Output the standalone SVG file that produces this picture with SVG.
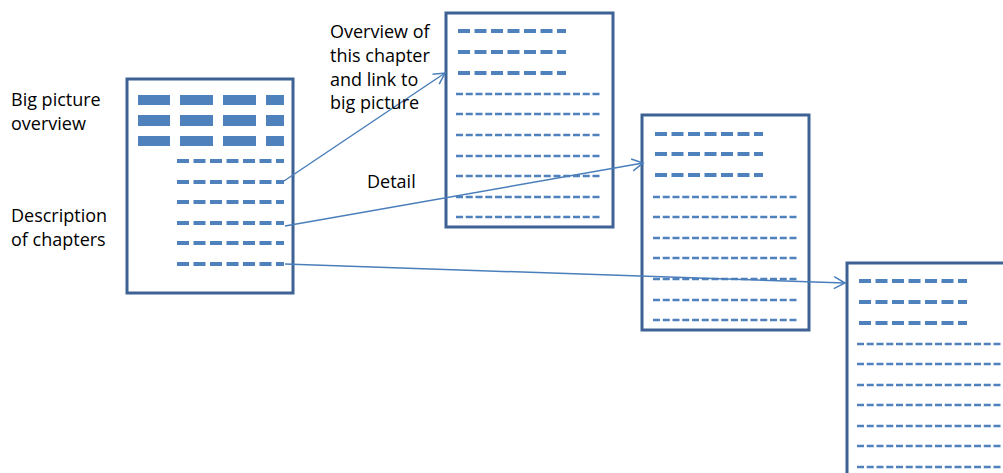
<svg xmlns="http://www.w3.org/2000/svg" width="1003" height="473" viewBox="0 0 1003 473">
<style>
.page{fill:#ffffff;stroke:#3d6293;stroke-width:3}
.blk{fill:#4f81bd}
.thick{stroke:#4f81bd;stroke-width:4;stroke-dasharray:12 4.5;fill:none}
.thin{stroke:#4f81bd;stroke-width:2.5;stroke-dasharray:7 2.75;fill:none}
.conn{stroke:#4a7ebb;stroke-width:1.5;fill:none;marker-end:url(#arr)}
.lbl{font-family:"Open Sans","Liberation Sans",sans-serif;font-size:18px;fill:#000}
</style>
<defs>
<marker id="arr" markerUnits="userSpaceOnUse" markerWidth="14" markerHeight="14" refX="12" refY="7" orient="auto" viewBox="0 0 14 14">
<path d="M1,1 L12,7 L1,13" fill="none" stroke="#4a7ebb" stroke-width="1.5"/>
</marker>
</defs>
<rect width="1003" height="473" fill="#ffffff"/>

<g id="doc1">
<rect class="page" x="127" y="79" width="166" height="214"/>
<rect class="blk" x="138" y="95" width="32" height="10"/>
<rect class="blk" x="180" y="95" width="33" height="10"/>
<rect class="blk" x="223" y="95" width="33" height="10"/>
<rect class="blk" x="266" y="95" width="18" height="10"/>
<rect class="blk" x="138" y="115" width="32" height="11"/>
<rect class="blk" x="180" y="115" width="33" height="11"/>
<rect class="blk" x="223" y="115" width="33" height="11"/>
<rect class="blk" x="266" y="115" width="18" height="11"/>
<rect class="blk" x="138" y="136" width="32" height="10"/>
<rect class="blk" x="180" y="136" width="33" height="10"/>
<rect class="blk" x="223" y="136" width="33" height="10"/>
<rect class="blk" x="266" y="136" width="18" height="10"/>
<path class="thick" d="M177,161H284M177,182H284M177,202H284M177,223H284M177,243H284M177,264H284"/>
</g>

<g id="doc2">
<rect class="page" x="446" y="13" width="167" height="214"/>
<path class="thick" d="M458,31H566M458,52H566M458,73H566"/>
<path class="thin" d="M456,94H602M456,114H602M456,135H602M456,156H602M456,176H602M456,197H602M456,217H602"/>
</g>

<g id="doc3">
<rect class="page" x="642" y="115" width="167" height="215"/>
<path class="thick" d="M655,134H763M655,154H763M655,175H763"/>
<path class="thin" d="M653,197H799M653,217H799M653,238H799M653,258H799M653,279H799M653,300H799M653,320H799"/>
</g>

<g id="doc4">
<rect class="page" x="847" y="263" width="167" height="215"/>
<path class="thick" d="M859,281H967M859,302H967M859,323H967"/>
<path class="thin" d="M857,344H1010M857,364H1010M857,385H1010M857,405H1010M857,426H1010M857,446H1010M857,467H1010"/>
</g>

<g id="connectors">
<path class="conn" d="M284,181L445,73"/>
<path class="conn" d="M285,226L643,163"/>
<path class="conn" d="M285,264L845,283"/>
</g>

<g id="labels">
<text class="lbl" x="11" y="106">Big picture</text>
<text class="lbl" x="11" y="130">overview</text>
<text class="lbl" x="11" y="222">Description</text>
<text class="lbl" x="11" y="246">of chapters</text>
<text class="lbl" x="330" y="38">Overview of</text>
<text class="lbl" x="330" y="62">this chapter</text>
<text class="lbl" x="330" y="86">and link to</text>
<text class="lbl" x="330" y="109">big picture</text>
<text class="lbl" x="367" y="188">Detail</text>
</g>
</svg>
